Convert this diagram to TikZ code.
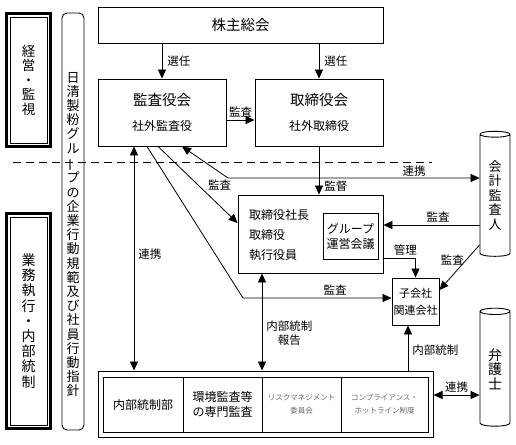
\documentclass[tikz,border=0pt]{standalone}
\usepackage{fontspec}
\setmainfont{Noto Sans CJK JP}
\usepackage{graphicx}
\usetikzlibrary{arrows.meta,positioning,shapes.geometric}
\newcommand{\tatebo}{\rotatebox[origin=c]{90}{ー}}

\begin{document}
\begin{tikzpicture}[x=1pt, y=-1pt,
  box/.style={draw, line width=0.9pt, inner sep=0pt, align=center},
  cell/.style={draw, line width=0.8pt, inner sep=0pt, outer sep=0pt, minimum height=55pt, align=center, font=\fontsize{12}{15}\selectfont},
  small/.style={cell, text=black!60, font=\fontsize{7.5}{13}\selectfont},
  side/.style={draw, line width=3pt, outer sep=0pt, minimum width=44pt, align=center},
  tube/.style={draw, cylinder, shape border rotate=90, aspect=0.45, line width=0.9pt, minimum width=30pt, align=center, inner sep=0pt},
  lbl/.style={font=\fontsize{11.5}{14}\selectfont, inner sep=2pt},
  arr/.style={-{Triangle[length=9pt,width=8pt]}, line width=0.8pt},
  both/.style={{Triangle[length=9pt,width=8pt]}-{Triangle[length=9pt,width=8pt]}, line width=0.8pt}]
\useasboundingbox (0,0) rectangle (516,444);

\node[side, minimum height=133pt, font=\fontsize{13.5}{14.5}\selectfont] (keiei) at (28.5,80) {経\\営\\・\\監\\視};
\node[side, minimum height=215pt, font=\fontsize{14}{15.2}\selectfont] (gyomu) at (28.5,321) {業\\務\\執\\行\\・\\内\\部\\統\\制};
\draw[line width=0.8pt] ([shift={(3.5pt,-3.5pt)}]keiei.north west) rectangle ([shift={(-3.5pt,3.5pt)}]keiei.south east);
\draw[line width=0.8pt] ([shift={(3.5pt,-3.5pt)}]gyomu.north west) rectangle ([shift={(-3.5pt,3.5pt)}]gyomu.south east);

\node[draw, rounded corners=5pt, line width=0.9pt, minimum width=22pt, minimum height=417pt] (kodo) at (73,221.5) {};
\node[align=center, inner sep=0pt, font=\fontsize{13}{14.2}\selectfont] (kodotext) at (73,234.5)
  {日\\清\\製\\粉\\グ\\ル\\\tatebo\\プ\\の\\企\\業\\行\\動\\規\\範\\及\\び\\社\\員\\行\\動\\指\\針};

\node[box, minimum width=285pt, minimum height=36pt, font=\fontsize{14.5}{17}\selectfont] (kabu) at (240.5,25) {株主総会};
\node[box, minimum width=128pt, minimum height=67pt] (kansa) at (162,112.5)
  {{\fontsize{14.5}{16}\selectfont 監査役会}\\[13pt]{\fontsize{12}{14}\selectfont 社外監査役}};
\node[box, minimum width=128pt, minimum height=67pt] (tori) at (319,112.5)
  {{\fontsize{14.5}{16}\selectfont 取締役会}\\[13pt]{\fontsize{12}{14}\selectfont 社外取締役}};

\draw[dash pattern=on 8pt off 5pt, line width=0.9pt] (13,162) -- (432,162);

\node[box, minimum width=145pt, minimum height=78pt] (shacho) at (310.5,234) {};
\node[align=left, anchor=west, inner sep=0pt, font=\fontsize{12}{20}\selectfont] (yakuin) at (249,235) {取締役社長\\取締役\\執行役員};
\node[box, minimum width=55pt, minimum height=46pt, font=\fontsize{12}{15}\selectfont] (grp) at (350.5,236) {グループ\\運営会議};
\node[box, minimum width=47pt, minimum height=47pt, font=\fontsize{11}{17}\selectfont] (kogai) at (415.5,301.5) {子会社\\関連会社};

\node[tube, minimum height=125pt, font=\fontsize{13}{14.5}\selectfont] (kaikei) at (495,195.5) {会\\計\\監\\査\\人};
\node[tube, minimum height=118pt, font=\fontsize{14}{14.5}\selectfont] (bengo) at (495,369) {弁\\護\\士};

\node[draw, line width=1pt, minimum width=335pt, minimum height=66pt] (waku) at (265.5,404) {};
\node[cell, minimum width=80pt] (naibu) at (143,404.5) {内部統制部};
\node[cell, minimum width=79pt, right=0pt of naibu] (kankyo) {環境監査等\\の専門監査};
\node[small, minimum width=79pt, right=0pt of kankyo] (risk) {リスクマネジメント\\委員会};
\node[small, minimum width=87pt, right=0pt of risk] (comp) {コンプライアンス・\\ホットライン制度};

\coordinate (k_1) at (228,178);
\coordinate (k_2) at (243,298);

\path[arr] (kabu.south -| kansa.north) edge node[lbl, right, xshift=3pt] {選任} (kansa.north)
    (kabu.south -| tori.north) edge node[lbl, right, xshift=3pt] {選任} (tori.north)
    ([yshift=-7.5pt]kansa.east) edge node[lbl, above] {監査} ([yshift=-7.5pt]tori.west)
    (tori.south) edge node[lbl, right, pos=0.83, xshift=3pt] {監督} (tori.south |- shacho.north)
    ([xshift=-4pt]kansa.south) edge node[lbl, pos=0.6, anchor=south west] {監査} ([yshift=11pt]shacho.west)
    ([yshift=9pt]shacho.east -| kaikei.west) edge node[lbl, above, pos=0.43] {監査} ([yshift=9pt]shacho.east)
    ([yshift=-49.5pt]kaikei.west) edge node[lbl, left, pos=0.33] {監査} ([yshift=11.5pt]kogai.east)
    ([xshift=-7.5pt]kogai.south |- waku.north) edge node[lbl, right, pos=0.46, xshift=2pt] {内部統制} ([xshift=-7.5pt]kogai.south);
\draw[arr] ([xshift=-15pt]kansa.south) -- (k_2) -- node[lbl, above, pos=0.62] {監査} ([yshift=3.5pt]kogai.west);
\draw[arr] ([yshift=-24pt]shacho.east) -| node[lbl, above, pos=0.34] {管理} (kogai.north);
\draw[both] ([xshift=20pt]kansa.south) -- (k_1) -- node[lbl, above, pos=0.74, inner sep=1pt] {連携} (k_1 -| kaikei.west);
\path[both] ([xshift=-28pt]kansa.south) edge node[lbl, right, pos=0.48, xshift=2pt] {連携} ([xshift=-28pt]kansa.south |- waku.north)
    ([xshift=-48.5pt]shacho.south) edge node[lbl, right, pos=0.62, align=center, xshift=2pt] {内部統制\\報告} ([xshift=-48.5pt]shacho.south |- waku.north)
    ([yshift=9pt]waku.east) edge node[lbl, above] {連携} ([yshift=9pt]waku.east -| bengo.west);
\end{tikzpicture}
\end{document}
